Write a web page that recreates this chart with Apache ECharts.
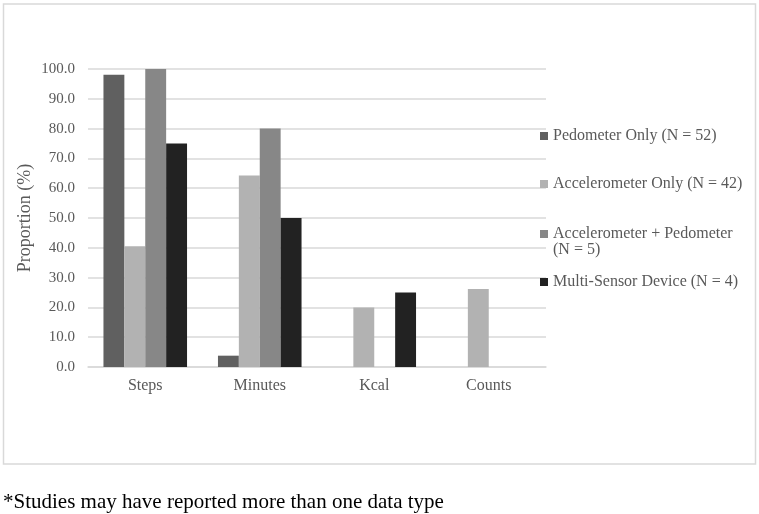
<!DOCTYPE html>
<html>
<head>
<meta charset="utf-8">
<script src="https://cdn.jsdelivr.net/npm/echarts@6/dist/echarts.min.js"></script>
<style>html,body{margin:0;padding:0;background:#fff}#c{width:759px;height:514px}</style>
</head>
<body>
<div id="c"></div>
<script>
var categories = ['Steps', 'Minutes', 'Kcal', 'Counts'];
var seriesNames = ['Pedometer Only (N = 52)', 'Accelerometer Only (N = 42)', 'Accelerometer + Pedometer (N = 5)', 'Multi-Sensor Device (N = 4)'];
var pedometerOnly = [98.1, 3.8, 0, 0];
var accelerometerOnly = [40.5, 64.3, 20.0, 26.2];
var accelPedometer = [100.0, 80.0, 0, 0];
var multiSensor = [75.0, 50.0, 25.0, 0];
var colors = ['#606060', '#b2b2b2', '#878787', '#222222'];
var yTicks = { min: 0, max: 100, interval: 10 };
var footnote = '*Studies may have reported more than one data type';

var values = [pedometerOnly, accelerometerOnly, accelPedometer, multiSensor];
var font = '"Liberation Serif", "Times New Roman", serif';
var textColor = '#595959';

var legendTops = [123, 171, 221, 269];
var legends = seriesNames.map(function (n, i) {
  var lg = {
    orient: 'vertical', left: 535, top: legendTops[i],
    data: [n], itemWidth: 8, itemHeight: 8, icon: 'rect', itemGap: 0,
    textStyle: { fontFamily: font, fontSize: 16, color: textColor },
    selectedMode: false
  };
  if (i === 2) {
    lg.formatter = function () { return 'Accelerometer + Pedometer\n(N = 5)'; };
    lg.itemHeight = 24;
    lg.icon = 'path://M0,0L8,0L8,8L0,8Z M0,24L0.01,24';
    lg.textStyle.lineHeight = 16;
  }
  return lg;
});

var chart = echarts.init(document.getElementById('c'), null, { renderer: 'canvas' });
chart.setOption({
  animation: false,
  backgroundColor: '#fff',
  graphic: [
    { type: 'rect', shape: { x: 3.5, y: 4, width: 752, height: 460 }, style: { fill: 'none', stroke: '#d9d9d9', lineWidth: 1.5 }, silent: true },
    { type: 'text', left: 3, top: 492, style: { text: footnote, font: '21px ' + font, fill: '#000' } }
  ],
  legend: legends,
  grid: { left: 88, right: 213, top: 69, bottom: 147 },
  xAxis: {
    type: 'category', data: categories,
    axisLine: { lineStyle: { color: '#d9d9d9', width: 1.5 } },
    axisTick: { show: false },
    axisLabel: { fontFamily: font, fontSize: 16, color: textColor, margin: 11 }
  },
  yAxis: {
    type: 'value', min: yTicks.min, max: yTicks.max, interval: yTicks.interval,
    name: 'Proportion (%)', nameLocation: 'middle', nameRotate: 90, nameGap: 54,
    nameMoveOverlap: false,
    nameTextStyle: { fontFamily: font, fontSize: 18, color: textColor },
    axisLine: { show: false }, axisTick: { show: false },
    splitLine: { lineStyle: { color: '#d9d9d9', width: 1.5 } },
    axisLabel: { fontFamily: font, fontSize: 15, color: textColor, margin: 13,
      formatter: function (v) { return v.toFixed(1); } }
  },
  series: seriesNames.map(function (n, i) {
    return { name: n, type: 'bar', data: values[i], barGap: '0%', barCategoryGap: '27%',
      itemStyle: { color: colors[i] } };
  })
});
</script>
</body>
</html>
